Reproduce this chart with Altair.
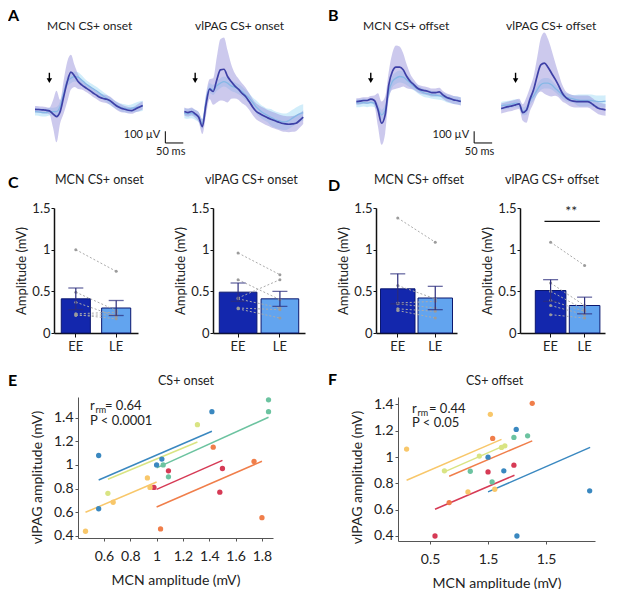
import altair as alt
import pandas as pd

FONT = "Lato"
TXT = "#222222"

# ---------------- A / B : evoked potentials (time in ms, amplitude in µV) ----------------
T_A1 = [-40,-30,-20,-10,0,10,20,30,40,50,60,70,80,90,100,110,120,130,140,150,160,170,180,190,200,210,220,230,240,250,260]
A1_DARK = [-12,-14,-17,-20,-26,-51,-74,-32,97,225,305,273,225,196,174,154,131,111,91,80,74,60,34,11,-3,-12,-20,-23,-9,6,20]
A1_DARK_SEM = [28,28,28,28,28,114,220,100,142,171,148,94,63,40,34,34,34,34,34,34,34,34,34,34,34,28,28,28,28,34,34]
A1_LIGHT = [-32,-34,-40,-40,-32,-32,-32,11,125,225,253,268,262,239,211,188,168,148,125,102,80,54,34,17,3,-3,-9,-3,3,11,17]
A1_LIGHT_SEM = [34,34,34,34,34,34,40,43,43,43,43,43,43,40,34,34,34,34,34,34,34,34,34,34,34,34,34,34,40,43,43]

T_A2 = [-30,-20,-10,0,10,20,30,40,50,60,70,80,90,100,110,120,130,140,150,160,170,180,190,200,210,220,230,240,250,260,270,280,290,300]
A2_DARK = [-31,-40,-31,-51,-80,-160,26,160,140,239,325,330,268,225,188,160,125,97,54,6,-31,-51,-68,-83,-97,-108,-120,-131,-137,-140,-137,-131,-108,-80]
A2_DARK_SEM = [34,34,34,34,43,64,91,85,114,194,262,271,222,148,108,91,85,77,71,68,68,68,68,68,68,68,68,68,68,68,68,68,62,57]
A2_LIGHT = [-46,-51,-46,-60,-80,-137,54,168,154,188,211,225,211,188,177,160,140,111,83,46,6,-23,-46,-63,-80,-97,-108,-117,-120,-108,-88,-68,-51,-40]
A2_LIGHT_SEM = [43,43,43,43,43,43,43,43,43,43,43,43,43,43,43,43,43,43,43,43,57,57,57,57,71,71,71,71,71,71,71,71,71,71]

T_B1 = [-40,-30,-20,-10,0,10,20,30,40,50,60,70,80,90,100,110,120,130,140,150,160,170,180,190,200,210,220,230,240,250]
B1_DARK = [54,57,63,63,74,63,-17,-131,-60,197,311,348,348,325,268,225,197,168,154,148,140,131,131,137,111,91,80,68,63,54]
B1_DARK_SEM = [28,28,28,28,28,43,142,185,157,114,157,185,177,142,100,63,43,34,34,34,34,34,34,34,34,34,34,34,34,34]
B1_LIGHT = [40,40,46,40,46,40,-3,-60,-17,140,225,254,268,262,239,211,182,160,140,125,120,111,108,103,97,83,74,68,63,57]
B1_LIGHT_SEM = [34,34,34,34,34,34,40,45,45,51,51,51,51,51,45,40,34,34,34,34,34,34,34,34,34,34,34,34,34,34]

T_B2 = [-40,-30,-20,-10,0,10,20,30,40,50,60,70,80,90,100,110,120,130,140,150,160,170,180,190,200,210,220,230,240,250]
B2_DARK = [-6,3,11,17,26,34,-40,-20,74,154,273,367,382,348,296,245,188,125,88,68,57,54,54,54,54,40,17,-3,-11,-17]
B2_DARK_SEM = [43,43,43,43,43,43,71,108,100,114,157,228,262,242,199,142,100,71,51,51,51,51,51,51,51,51,51,51,51,51]
B2_LIGHT = [17,23,26,34,40,34,-30,-20,63,100,154,197,211,211,197,168,140,111,91,83,77,68,63,63,63,63,57,54,54,57]
B2_LIGHT_SEM = [34,34,34,34,34,34,34,40,40,40,45,45,45,45,40,34,34,34,34,34,34,45,51,51,51,51,51,51,51,51]

TRACE_YDOM = [-360, 580]
STIM_T = 0
ARROW_TOP = 300
ARROW_TIP = 232
SB_UV = 100
SB_MS = 50
SB_BASE = -300

DARK_LINE = "#3d3fa6"
DARK_BAND = "#9a94dc"
LIGHT_LINE = "#86b8e6"
LIGHT_BAND = "#b3e1f6"

# ---------------- C / D : amplitudes (mV) ----------------
CONDS = ["EE", "LE"]
C1_EE = [1.00, 0.49, 0.37, 0.23, 0.22, 0.21]
C1_LE = [0.74, 0.27, 0.20, 0.25, 0.17, 0.22]
C1_MEAN = [0.41, 0.30]
C1_SEM = [0.13, 0.09]
C2_EE = [0.96, 0.64, 0.42, 0.41, 0.30, 0.29]
C2_LE = [0.70, 0.40, 0.64, 0.30, 0.28, 0.18]
C2_MEAN = [0.49, 0.41]
C2_SEM = [0.11, 0.09]
D1_EE = [1.38, 0.57, 0.36, 0.35, 0.29, 0.27]
D1_LE = [1.09, 0.41, 0.38, 0.30, 0.26, 0.18]
D1_MEAN = [0.53, 0.42]
D1_SEM = [0.18, 0.14]
D2_EE = [1.09, 0.60, 0.50, 0.39, 0.33, 0.22]
D2_LE = [0.81, 0.33, 0.28, 0.26, 0.22, 0.18]
D2_MEAN = [0.51, 0.33]
D2_SEM = [0.13, 0.10]
D2_SIG_Y = 1.34

EE_COL = "#1327ad"
LE_COL = "#62a4ef"
NAVY = "#0b176e"
ERR_COL = "#2b2c7c"

# ---------------- E / F : repeated-measures correlation ----------------
GROUPS = ["blue", "teal", "lime", "red", "orange", "lightorange"]
GROUP_COLORS = ["#3a88c0", "#6cc3a0", "#d9e483", "#d63a55", "#f07e4a", "#f8c76a"]

E_GRP = ["blue"]*5 + ["teal"]*4 + ["lime"]*2 + ["red"]*4 + ["orange"]*4 + ["lightorange"]*4
E_X = [0.56,0.56,1.00,1.04,1.42, 1.05,1.09,1.85,1.85, 0.63,1.31, 0.98,1.09,1.48,1.50, 1.03,1.43,1.74,1.80, 0.46,0.67,0.93,0.95]
E_Y = [1.08,0.63,1.00,1.05,1.45, 1.00,0.90,1.55,1.45, 0.76,1.34, 0.81,0.95,0.77,0.97, 0.46,1.15,1.03,0.555, 0.44,0.685,0.89,0.81]
E_LINE_GRP = ["blue","blue","lime","lime","teal","teal","red","red","orange","orange","lightorange","lightorange"]
E_LINE_X = [0.56,1.42, 0.63,1.31, 1.00,1.85, 1.00,1.50, 1.00,1.80, 0.46,1.00]
E_LINE_Y = [0.873,1.285, 0.879,1.194, 0.975,1.403, 0.794,1.039, 0.645,1.031, 0.60,0.856]

F_GRP = ["orange"]*3 + ["lightorange"]*4 + ["blue"]*5 + ["teal"]*4 + ["lime"]*4 + ["red"]*3
F_X = [0.665,1.04,1.381, 0.298,0.827,1.02,1.058, 1.0,1.136,1.243,1.249,1.876, 0.847,1.035,1.223,1.341, 0.624,0.925,1.116,1.145, 0.543,1.0,1.223]
F_Y = [0.654,1.141,1.408, 1.06,0.735,1.324,0.755, 0.999,0.895,1.21,0.40,0.743, 0.892,0.811,1.149,1.161, 0.895,1.007,1.073,1.085, 0.40,0.887,0.938]
F_LINE_GRP = ["orange","orange","lightorange","lightorange","blue","blue","lime","lime","red","red"]
F_LINE_X = [0.665,1.381, 0.298,1.116, 1.0,1.88, 0.624,1.15, 0.543,1.228]
F_LINE_Y = [0.854,1.123, 0.824,1.134, 0.735,1.073, 0.887,1.09, 0.603,0.862]


def title_mark(text, x, y, size=12.5):
    return alt.Chart(pd.DataFrame({"title": [text]})).mark_text(
        align="left", baseline="alphabetic", fontSize=size, font=FONT, color=TXT
    ).encode(text="title:N", x=alt.value(x), y=alt.value(y))


def trace_panel(t, dm, ds, lm, ls, xdom, width, ttl, tdx, sb_t=None):
    d = pd.DataFrame({"t": t, "dm": dm, "ds": ds, "lm": lm, "ls": ls})
    d["dlo"] = d.dm - d.ds
    d["dhi"] = d.dm + d.ds
    d["llo"] = d.lm - d.ls
    d["lhi"] = d.lm + d.ls
    xs = alt.Scale(domain=xdom, nice=False, zero=False)
    ys = alt.Scale(domain=TRACE_YDOM, nice=False, zero=False)
    X = alt.X("t:Q", scale=xs, axis=None)
    base = alt.Chart(d).encode(x=X)
    lband = base.mark_area(color=LIGHT_BAND, opacity=0.6, interpolate="monotone").encode(
        y=alt.Y("llo:Q", scale=ys, axis=None), y2="lhi:Q")
    dband = base.mark_area(color=DARK_BAND, opacity=0.5, interpolate="monotone").encode(
        y=alt.Y("dlo:Q", scale=ys, axis=None), y2="dhi:Q")
    lline = base.mark_line(color=LIGHT_LINE, strokeWidth=1.3, interpolate="monotone").encode(
        y=alt.Y("lm:Q", scale=ys, axis=None))
    dline = base.mark_line(color=DARK_LINE, strokeWidth=1.7, interpolate="monotone").encode(
        y=alt.Y("dm:Q", scale=ys, axis=None))
    arr = pd.DataFrame({"t": [STIM_T], "top": [ARROW_TOP], "tip": [ARROW_TIP]})
    arule = alt.Chart(arr).mark_rule(color="black", strokeWidth=1.4).encode(
        x=X, y=alt.Y("top:Q", scale=ys, axis=None), y2="tip:Q")
    ahead = alt.Chart(arr).mark_point(shape="triangle-down", filled=True, color="black",
                                      size=30, opacity=1).encode(x=X, y=alt.Y("tip:Q", scale=ys, axis=None))
    layers = [lband, dband, lline, dline, arule, ahead]
    if sb_t is not None:
        sb = pd.DataFrame({"t": [sb_t], "t2": [sb_t + SB_MS], "v": [SB_BASE], "v2": [SB_BASE + SB_UV],
                           "vm": [SB_BASE + SB_UV * 0.7], "tm": [sb_t + SB_MS * 0.3],
                           "uv": [f"{SB_UV} µV"], "ms": [f"{SB_MS} ms"]})
        cb = alt.Chart(sb)
        layers += [
            cb.mark_rule(color="black", strokeWidth=1).encode(x=X, y=alt.Y("v:Q", scale=ys, axis=None), y2="v2:Q"),
            cb.mark_rule(color="black", strokeWidth=1).encode(x=X, x2="t2:Q", y=alt.Y("v:Q", scale=ys, axis=None)),
            cb.mark_text(align="right", baseline="middle", dx=-5, fontSize=11, font=FONT, color=TXT).encode(
                x=X, y=alt.Y("vm:Q", scale=ys, axis=None), text="uv:N"),
            cb.mark_text(align="center", baseline="top", dy=3, fontSize=11, font=FONT, color=TXT).encode(
                x=alt.X("tm:Q", scale=xs, axis=None), y=alt.Y("v:Q", scale=ys, axis=None), text="ms:N"),
        ]
    layers.append(title_mark(ttl, tdx, -10, 12))
    return alt.layer(*layers).properties(width=width, height=110)


def bar_panel(ttl, tdx, ee, le, means, sems, width, pi, po, align=0.5, sig=None):
    xsc = alt.Scale(domain=CONDS, paddingInner=pi, paddingOuter=po, align=align)
    ysc = alt.Scale(domain=[0, 1.5], nice=False)
    xax = alt.Axis(title=None, labelAngle=0, labelFontSize=13, labelPadding=3, tickSize=4,
                   domainWidth=1.5, domainColor="#111", tickColor="#111", labelColor=TXT, labelFont=FONT)
    yax = alt.Axis(title="Amplitude (mV)", values=[0, 0.5, 1, 1.5], format="~g", labelFontSize=13,
                   titleFontSize=13, tickSize=3, labelPadding=1, titlePadding=3, domainWidth=1.5,
                   domainColor="#111", tickColor="#111", labelColor=TXT, titleColor=TXT,
                   labelFont=FONT, titleFont=FONT, titleFontWeight="normal", grid=False)
    X = alt.X("cond:N", scale=xsc, axis=xax, sort=CONDS)
    bdf = pd.DataFrame({"cond": CONDS, "mean": means, "sem": sems, "fill": [EE_COL, LE_COL]})
    bdf["lo"] = bdf["mean"] - bdf["sem"]
    bdf["hi"] = bdf["mean"] + bdf["sem"]
    rows = []
    for i, (a, b) in enumerate(zip(ee, le)):
        rows.append({"subj": i, "cond": "EE", "val": a})
        rows.append({"subj": i, "cond": "LE", "val": b})
    pdf = pd.DataFrame(rows)
    bars = alt.Chart(bdf).mark_bar(stroke=NAVY, strokeWidth=1).encode(
        x=X, y=alt.Y("mean:Q", scale=ysc, axis=yax), fill=alt.Fill("fill:N", scale=None))
    lines = alt.Chart(pdf).mark_line(color="#ababab", strokeDash=[2, 2], strokeWidth=1).encode(
        x=X, y=alt.Y("val:Q", scale=ysc, axis=yax), detail="subj:N")
    pts = alt.Chart(pdf).mark_circle(color="#9b9b9b", size=9, opacity=1).encode(
        x=X, y=alt.Y("val:Q", scale=ysc, axis=yax))
    err = alt.Chart(bdf).mark_rule(color=ERR_COL, strokeWidth=1.2).encode(
        x=X, y=alt.Y("lo:Q", scale=ysc, axis=yax), y2="hi:Q")
    cap_hi = alt.Chart(bdf).mark_tick(color=ERR_COL, size=15, thickness=1.3).encode(
        x=X, y=alt.Y("hi:Q", scale=ysc, axis=yax))
    cap_lo = alt.Chart(bdf).mark_tick(color=ERR_COL, size=15, thickness=1.3).encode(
        x=X, y=alt.Y("lo:Q", scale=ysc, axis=yax))
    layers = [bars, lines, pts, err, cap_hi, cap_lo]
    if sig is not None:
        sdf = pd.DataFrame({"a": ["EE"], "b": ["LE"], "y": [sig], "txt": ["**"]})
        layers.append(alt.Chart(sdf).mark_rule(color="#111", strokeWidth=1.3).encode(
            x=alt.X("a:N", scale=xsc, axis=xax, sort=CONDS, bandPosition=0.3),
            x2=alt.X2("b:N", bandPosition=1.0),
            y=alt.Y("y:Q", scale=ysc, axis=yax)))
        layers.append(alt.Chart(sdf).mark_text(baseline="bottom", dy=-2, dx=2, fontSize=14, font=FONT, color=TXT).encode(
            x=alt.X("b:N", scale=xsc, axis=xax, sort=CONDS, bandPosition=0),
            y=alt.Y("y:Q", scale=ysc, axis=yax), text="txt:N"))
    layers.append(title_mark(ttl, tdx, -24.5, 12.5))
    return alt.layer(*layers).properties(width=width, height=125)


def scatter_panel(ttl, tdx, gx, gy, gg, lx, ly, lg, xdom, ydom, width, height, xvals, yvals,
                  rtxt, ptxt, rx, rsx, rex, ry, py, ytitle_y, xlabelexpr=None):
    xargs = dict(title="MCN amplitude (mV)", values=xvals, format="~g", labelFontSize=14, titleFontSize=14,
                 tickSize=3, labelPadding=8, titlePadding=10, domainColor="#555", tickColor="#555",
                 labelColor=TXT, titleColor=TXT, labelFont=FONT, titleFont=FONT,
                 titleFontWeight="normal", grid=False)
    if xlabelexpr:
        xargs["labelExpr"] = xlabelexpr
    xax = alt.Axis(**xargs)
    yax = alt.Axis(title="vlPAG amplitude (mV)", values=yvals, format="~g", labelFontSize=14, titleFontSize=14,
                   tickSize=3, labelPadding=2, titlePadding=9, titleY=ytitle_y, domainColor="#555",
                   tickColor="#555", labelColor=TXT, titleColor=TXT, labelFont=FONT, titleFont=FONT,
                   titleFontWeight="normal", grid=False)
    xs = alt.Scale(domain=xdom, nice=False, zero=False)
    ys = alt.Scale(domain=ydom, nice=False, zero=False)
    col = alt.Color("g:N", scale=alt.Scale(domain=GROUPS, range=GROUP_COLORS), legend=None)
    pdf = pd.DataFrame({"x": gx, "y": gy, "g": gg})
    ldf = pd.DataFrame({"x": lx, "y": ly, "g": lg})
    lines = alt.Chart(ldf).mark_line(strokeWidth=1.5).encode(
        x=alt.X("x:Q", scale=xs, axis=xax), y=alt.Y("y:Q", scale=ys, axis=yax), color=col, detail="g:N")
    pts = alt.Chart(pdf).mark_circle(size=28, opacity=1).encode(
        x=alt.X("x:Q", scale=xs, axis=xax), y=alt.Y("y:Q", scale=ys, axis=yax), color=col)
    ann = pd.DataFrame({"r": ["r"], "sub": ["rm"], "eq": [rtxt], "p": [ptxt]})
    ca = alt.Chart(ann)
    kw = dict(align="left", baseline="alphabetic", font=FONT, color=TXT)
    texts = [
        ca.mark_text(fontSize=13, **kw).encode(text="r:N", x=alt.value(rx), y=alt.value(ry)),
        ca.mark_text(fontSize=9, **kw).encode(text="sub:N", x=alt.value(rsx), y=alt.value(ry + 3)),
        ca.mark_text(fontSize=13, **kw).encode(text="eq:N", x=alt.value(rex), y=alt.value(ry)),
        ca.mark_text(fontSize=13, **kw).encode(text="p:N", x=alt.value(rx), y=alt.value(py)),
    ]
    return alt.layer(lines, pts, *texts, title_mark(ttl, tdx, -12, 12.5)).properties(width=width, height=height)


def spacer(w, h, letter="", lx=0, ly=0, top=None):
    d = pd.DataFrame({"s": [letter]})
    txt = alt.Chart(d).mark_text(
        align="left", baseline="top", fontSize=16, fontWeight="bold", font=FONT, color="black"
    ).encode(text="s:N", x=alt.value(lx), y=alt.value(ly))
    if top is None:
        return txt.properties(width=w, height=h)
    marker = alt.Chart(d).mark_rule(color="white", strokeOpacity=0, strokeWidth=0.01).encode(
        x=alt.value(0), x2=alt.value(1), y=alt.value(top), y2=alt.value(top))
    return alt.layer(marker, txt).properties(width=w, height=h)


pA1 = trace_panel(T_A1, A1_DARK, A1_DARK_SEM, A1_LIGHT, A1_LIGHT_SEM, [-40, 375], 149, "MCN CS+ onset", 12, sb_t=323)
pA2 = trace_panel(T_A2, A2_DARK, A2_DARK_SEM, A2_LIGHT, A2_LIGHT_SEM, [-31, 305], 121, "vlPAG CS+ onset", 11)
pB1 = trace_panel(T_B1, B1_DARK, B1_DARK_SEM, B1_LIGHT, B1_LIGHT_SEM, [-41, 356], 143, "MCN CS+ offset", 7, sb_t=287)
pB2 = trace_panel(T_B2, B2_DARK, B2_DARK_SEM, B2_LIGHT, B2_LIGHT_SEM, [-46, 254], 108, "vlPAG CS+ offset", 7)

pC1 = bar_panel("MCN CS+ onset", 1, C1_EE, C1_LE, C1_MEAN, C1_SEM, 84, 0.28, 0.18)
pC2 = bar_panel("vlPAG  CS+ onset", -8, C2_EE, C2_LE, C2_MEAN, C2_SEM, 92, 0.1, 0.15)
pD1 = bar_panel("MCN CS+ offset", -2, D1_EE, D1_LE, D1_MEAN, D1_SEM, 81, 0.08, 0.12)
pD2 = bar_panel("vlPAG CS+ offset", -15, D2_EE, D2_LE, D2_MEAN, D2_SEM, 85, 0.1, 0.3, align=0.75, sig=D2_SIG_Y)

pE = scatter_panel("CS+ onset", 80, E_X, E_Y, E_GRP, E_LINE_X, E_LINE_Y, E_LINE_GRP,
                   [0.403, 1.884], [0.383, 1.574], 195, 141,
                   [0.6, 0.8, 1, 1.2, 1.4, 1.6, 1.8], [0.4, 0.6, 0.8, 1, 1.2, 1.4],
                   "= 0.64", "P < 0.0001", 12, 17.5, 27, 13, 28, 80)
pF = scatter_panel("CS+ offset", 68, F_X, F_Y, F_GRP, F_LINE_X, F_LINE_Y, F_LINE_GRP,
                   [0.224, 1.922], [0.362, 1.456], 197, 144,
                   [0.5, 1, 1.5], [0.4, 0.6, 0.8, 1, 1.2, 1.4],
                   "= 0.44", "P < 0.05", 14, 19.5, 31, 16, 30, 80,
                   xlabelexpr="datum.value == 1 ? '1.5' : datum.label")

row1 = alt.hconcat(spacer(27, 128, "A", 0, -32), pA1, pA2, spacer(51, 110, "B", 23, -32), pB1, pB2,
                   spacing=0, bounds="flush")
row2 = alt.hconcat(spacer(46, 149, "C", 0, -33.5, top=-40), pC1, spacer(75, 125), pC2,
                   spacer(71, 125, "D", 23, -30.5), pD1, spacer(63, 125), pD2,
                   spacing=0, bounds="flush")
row3 = alt.hconcat(spacer(70, 144, "E", 0, -24, top=-40), pE, spacer(125, 144, "F", 55, -25), pF,
                   spacing=0, bounds="flush")

chart = alt.vconcat(row1, row2, row3, spacing=0).properties(padding=0).configure_view(stroke=None)

chart.save("out.html", embed_options={"renderer": "svg", "actions": False})
